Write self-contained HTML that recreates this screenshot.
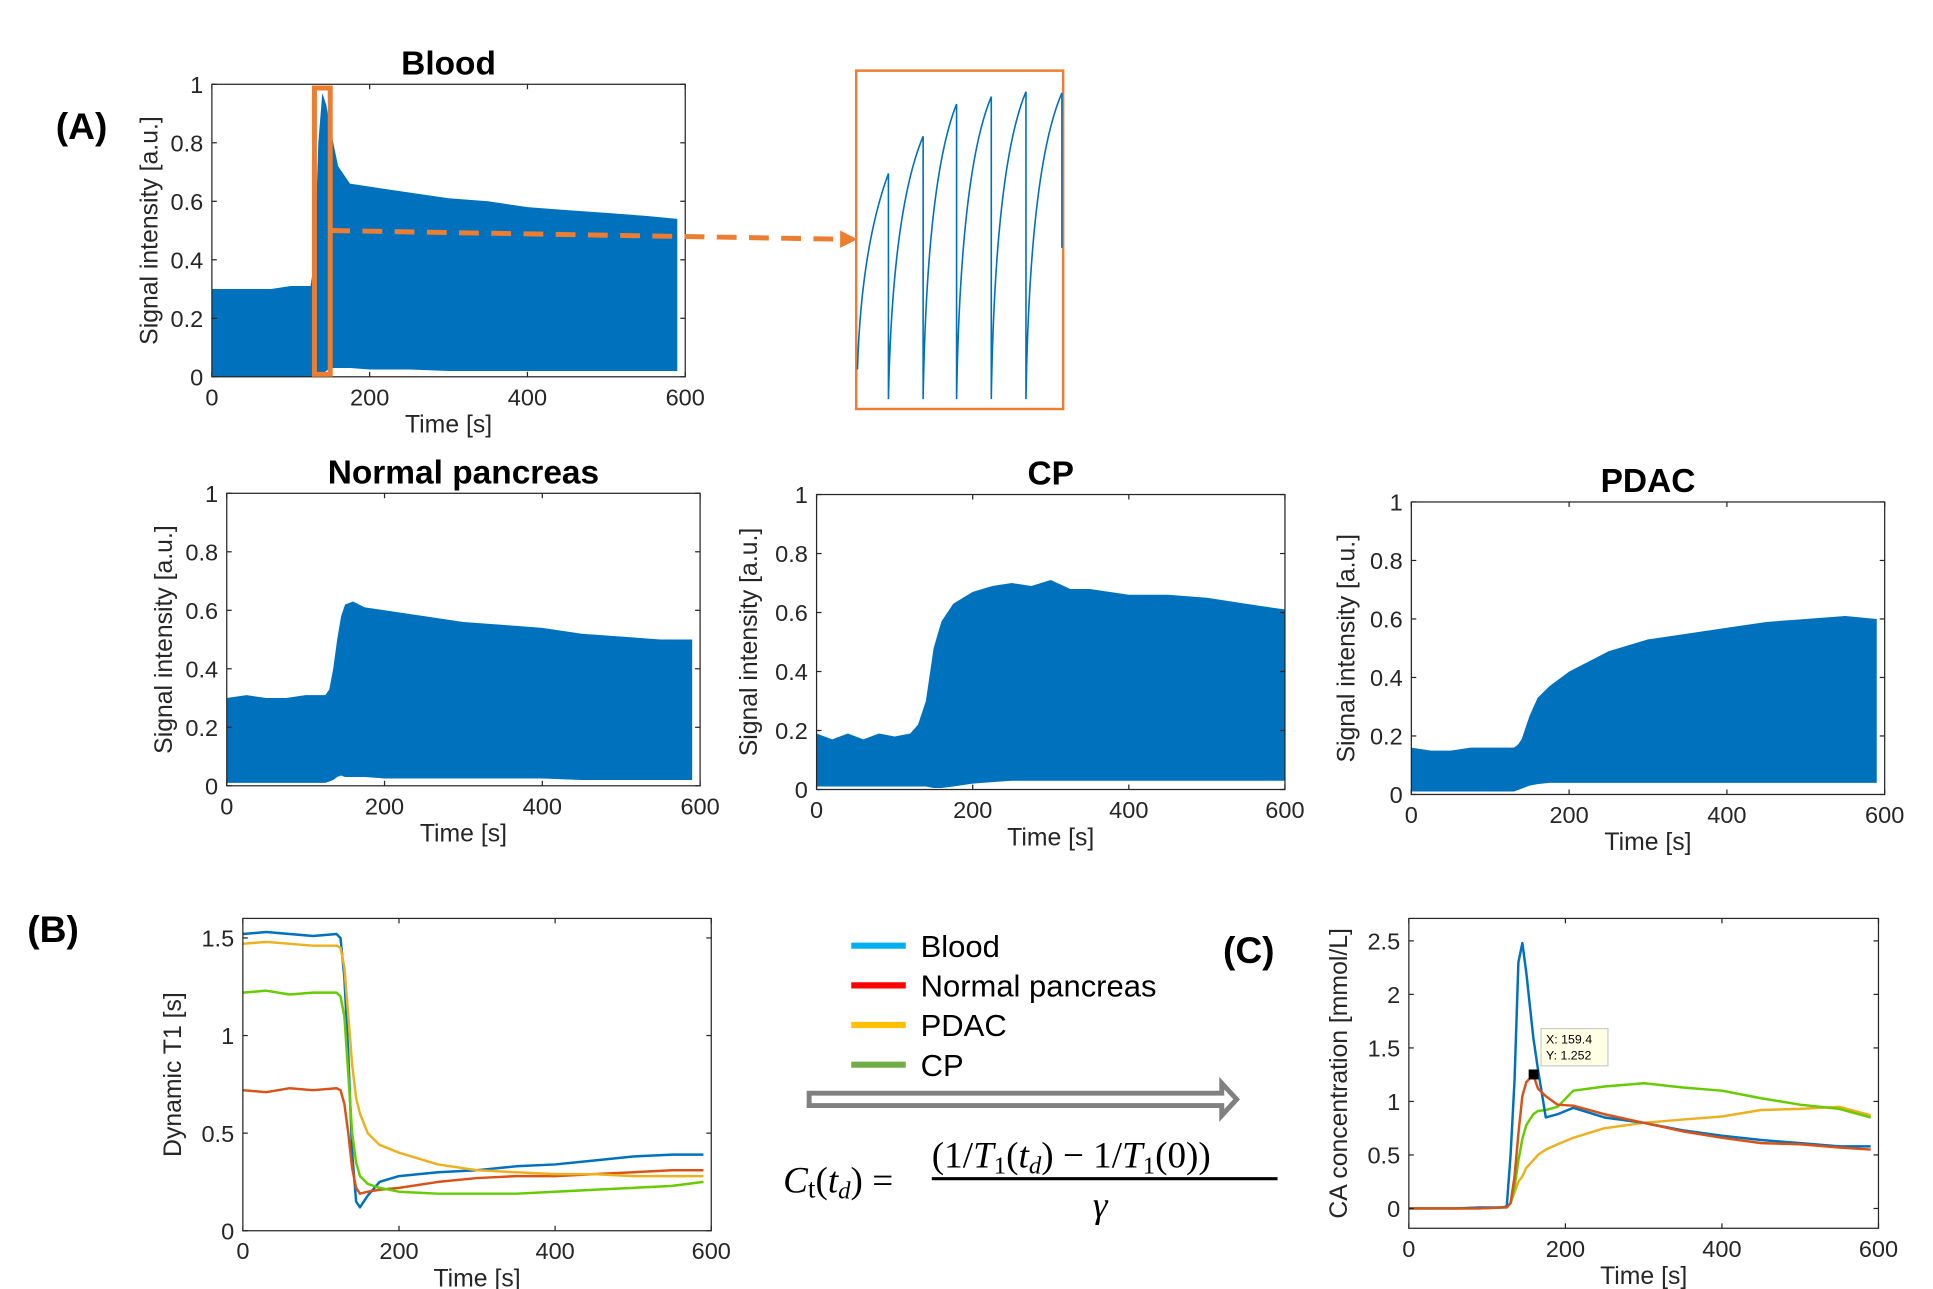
<!DOCTYPE html>
<html><head><meta charset="utf-8"><style>
html,body{margin:0;padding:0;background:#fff;}
svg{display:block;font-family:"Liberation Sans",sans-serif;}
</style></head><body>
<svg id="fig" width="1933" height="1289" viewBox="0 0 1560 1040" preserveAspectRatio="none" xmlns="http://www.w3.org/2000/svg">
<rect width="1560" height="1040" fill="#fff"/>
<text x="45" y="112" font-size="30" font-weight="bold">(A)</text>
<text x="22" y="760" font-size="30" font-weight="bold">(B)</text>
<text x="987" y="777" font-size="30" font-weight="bold">(C)</text>
<g id="charts"></g>
<rect x="691" y="57" width="167" height="273" fill="none" stroke="#ED7D31" stroke-width="2"/>
<g id="inset"></g>
<g font-size="25">
<line x1="687" y1="763" x2="731" y2="763" stroke="#00B0F0" stroke-width="5"/>
<text x="743" y="772">Blood</text>
<line x1="687" y1="795" x2="731" y2="795" stroke="#FF0000" stroke-width="5"/>
<text x="743" y="804">Normal pancreas</text>
<line x1="687" y1="827" x2="731" y2="827" stroke="#FFC000" stroke-width="5"/>
<text x="743" y="836">PDAC</text>
<line x1="687" y1="859" x2="731" y2="859" stroke="#70AD47" stroke-width="5"/>
<text x="743" y="868">CP</text>
</g>
<path d="M653,882 L986,882 L986,874 L998,887 L986,900 L986,892 L653,892 Z" fill="#fff" stroke="#808080" stroke-width="4"/>
<g font-family="'Liberation Serif',serif" font-style="italic" font-size="30">
<text x="632" y="962">C<tspan font-style="normal" font-size="22" dy="4">t</tspan><tspan dy="-4" font-style="normal">(</tspan>t<tspan font-size="20" dy="5">d</tspan><tspan dy="-5" font-style="normal">) =</tspan></text>
<text x="752" y="942"><tspan font-style="normal">(1/</tspan>T<tspan font-style="normal" font-size="20" dy="5">1</tspan><tspan font-style="normal" dy="-5">(</tspan>t<tspan font-size="20" dy="5">d</tspan><tspan font-style="normal" dy="-5">) − 1/</tspan>T<tspan font-style="normal" font-size="20" dy="5">1</tspan><tspan font-style="normal" dy="-5">(0))</tspan></text>
<line x1="752" y1="951" x2="1031" y2="951" stroke="#000" stroke-width="2.5"/>
<text x="882" y="982">γ</text>
</g>
</svg>
<script>
const sigT = [0,25,50,75,100,125,130,135,140,145,150,160,175,200,250,300,350,400,450,500,550,590];
const bloodUpper = [0.30,0.30,0.30,0.30,0.31,0.31,0.40,0.80,0.97,0.93,0.85,0.72,0.66,0.65,0.63,0.61,0.60,0.58,0.57,0.56,0.55,0.54];
const bloodLower = [0,0,0,0,0,0,0,0,0.01,0.02,0.03,0.03,0.03,0.025,0.025,0.02,0.02,0.02,0.02,0.02,0.02,0.02];
const normalUpper = [0.30,0.31,0.30,0.30,0.31,0.31,0.33,0.40,0.50,0.58,0.62,0.63,0.61,0.60,0.58,0.56,0.55,0.54,0.52,0.51,0.50,0.50];
const normalLower = [0.01,0.01,0.01,0.01,0.01,0.01,0.015,0.02,0.03,0.035,0.03,0.03,0.03,0.025,0.025,0.025,0.025,0.025,0.02,0.02,0.02,0.02];
const cpT = [0,20,40,60,80,100,120,130,140,150,160,175,200,225,250,275,300,325,350,375,400,450,500,550,600];
const cpUpper = [0.19,0.17,0.19,0.17,0.19,0.18,0.19,0.22,0.30,0.48,0.57,0.63,0.67,0.69,0.70,0.69,0.71,0.68,0.68,0.67,0.66,0.66,0.65,0.63,0.61];
const cpLower = [0.01,0.01,0.01,0.01,0.01,0.01,0.01,0.01,0.01,0.005,0.005,0.01,0.02,0.025,0.03,0.03,0.03,0.03,0.03,0.03,0.03,0.03,0.03,0.03,0.03];
const pdacUpper = [0.16,0.15,0.15,0.16,0.16,0.16,0.16,0.17,0.19,0.23,0.27,0.33,0.37,0.42,0.49,0.53,0.55,0.57,0.59,0.60,0.61,0.60];
const pdacLower = [0.01,0.01,0.01,0.01,0.01,0.01,0.01,0.015,0.02,0.025,0.03,0.035,0.04,0.04,0.04,0.04,0.04,0.04,0.04,0.04,0.04,0.04];
const t1T = [0,30,60,90,120,125,130,135,140,145,150,160,175,200,250,300,350,400,450,500,550,590];
const t1Blood = [1.52,1.53,1.52,1.51,1.52,1.50,1.30,0.90,0.40,0.15,0.12,0.18,0.25,0.28,0.30,0.31,0.33,0.34,0.36,0.38,0.39,0.39];
const t1Normal = [0.72,0.71,0.73,0.72,0.73,0.72,0.65,0.50,0.32,0.22,0.19,0.20,0.21,0.22,0.25,0.27,0.28,0.28,0.29,0.30,0.31,0.31];
const t1Pdac = [1.47,1.48,1.47,1.46,1.46,1.45,1.35,1.10,0.85,0.68,0.60,0.50,0.44,0.40,0.34,0.31,0.30,0.29,0.29,0.28,0.28,0.28];
const t1Cp = [1.22,1.23,1.21,1.22,1.22,1.20,1.10,0.80,0.50,0.35,0.28,0.24,0.22,0.20,0.19,0.19,0.19,0.20,0.21,0.22,0.23,0.25];
const caT = [0,30,60,90,120,125,130,135,140,145,150,159,165,175,190,210,250,300,350,400,450,500,550,590];
const caBlood = [0,0,0,0.01,0.01,0.02,0.5,1.2,2.3,2.48,2.2,1.6,1.3,0.85,0.88,0.94,0.85,0.80,0.73,0.68,0.64,0.61,0.58,0.58];
const caNormal = [0,0,0,0,0.01,0.01,0.05,0.3,0.7,1.05,1.18,1.25,1.12,1.05,0.97,0.96,0.88,0.80,0.72,0.66,0.61,0.60,0.57,0.55];
const caPdac = [0,0,0,0,0.01,0.01,0.05,0.15,0.25,0.30,0.38,0.45,0.50,0.55,0.60,0.66,0.75,0.80,0.83,0.86,0.92,0.93,0.95,0.87];
const caCp = [0,0,0,0,0.01,0.01,0.05,0.20,0.45,0.65,0.78,0.88,0.91,0.92,0.95,1.10,1.14,1.17,1.13,1.10,1.03,0.97,0.93,0.85];
const xTicks = [0,200,400,600];
const sigYTicks = [0,0.2,0.4,0.6,0.8,1];
const t1YTicks = [0,0.5,1,1.5];
const caYTicks = [0,0.5,1,1.5,2,2.5];

const NS = "http://www.w3.org/2000/svg";
const root = document.getElementById('charts');
function mk(tag, attrs, parent){ const e=document.createElementNS(NS,tag); for(const k in attrs) e.setAttribute(k,attrs[k]); (parent||root).appendChild(e); return e; }
function fmt(v){ return String(v); }
function axes(o){
  const g = mk('g',{});
  
  
  const sx = v => o.x0 + (v-o.xmin)/(o.xmax-o.xmin)*(o.x1-o.x0);
  const sy = v => o.y1 - (v-o.ymin)/(o.ymax-o.ymin)*(o.y1-o.y0);
  const plot = mk('g',{},g);
  const frame = mk('rect',{x:o.x0,y:o.y0,width:o.x1-o.x0,height:o.y1-o.y0,fill:'none',stroke:'#262626','stroke-width':1},g);
  
  
  xTicks.forEach(v=>{
    const x=sx(v);
    mk('line',{x1:x,y1:o.y1,x2:x,y2:o.y1-4,stroke:'#262626'},g);
    mk('line',{x1:x,y1:o.y0,x2:x,y2:o.y0+4,stroke:'#262626'},g);
    const t=mk('text',{x:x,y:o.y1+23,'font-size':19,'text-anchor':'middle',fill:'#262626'},g);
    t.textContent=fmt(v);
    
    
  });
  o.yTicks.forEach(v=>{
    const y=sy(v);
    mk('line',{x1:o.x0,y1:y,x2:o.x0+4,y2:y,stroke:'#262626'},g);
    mk('line',{x1:o.x1,y1:y,x2:o.x1-4,y2:y,stroke:'#262626'},g);
    const t=mk('text',{x:o.x0-7,y:y+7,'font-size':19,'text-anchor':'end',fill:'#262626'},g);
    t.textContent=fmt(v);
    
    
  });
  const xl=mk('text',{x:(o.x0+o.x1)/2,y:o.y1+45,'font-size':20,'text-anchor':'middle',fill:'#262626'},g);
  xl.textContent='Time [s]';
  
  
  const yx=o.x0-o.ylOff, yc=(o.y0+o.y1)/2;
  const yl=mk('text',{x:yx,y:yc,'font-size':20,'text-anchor':'middle',fill:'#262626',transform:`rotate(-90 ${yx} ${yc})`},g);
  yl.textContent=o.ylabel;
  
  
  if(o.title){
    const tt=mk('text',{x:(o.x0+o.x1)/2,y:o.y0-8,'font-size':27,'font-weight':'bold','text-anchor':'middle'},g);
    tt.textContent=o.title;
    
    
  }
  return {g,plot,sx,sy};
}
function band(ax, T, up, lo, name){
  let d='';
  T.forEach((t,i)=>{ d+=(i?'L':'M')+ax.sx(t).toFixed(1)+','+ax.sy(up[i]).toFixed(1); });
  for(let i=T.length-1;i>=0;i--) d+='L'+ax.sx(T[i]).toFixed(1)+','+ax.sy(lo[i]).toFixed(1);
  const p=mk('path',{d:d+'Z',fill:'#0072BD'},ax.plot);
  
  
}
function line(ax, T, Y, color, name){
  let d='';
  T.forEach((t,i)=>{ d+=(i?'L':'M')+ax.sx(t).toFixed(1)+','+ax.sy(Y[i]).toFixed(1); });
  const p=mk('path',{d:d,fill:'none',stroke:color,'stroke-width':2,'stroke-linejoin':'round'},ax.plot);
  
  
}
const SI='Signal intensity [a.u.]';
const aB=axes({name:'blood-signal-chart',title:'Blood',x0:171,x1:553,y0:68,y1:304,xmin:0,xmax:600,ymin:0,ymax:1,yTicks:sigYTicks,ylabel:SI,ylOff:44});
band(aB,sigT,bloodUpper,bloodLower,'blood-signal-area');
const hb=mk('rect',{x:aB.sx(130),y:71,width:aB.sx(150)-aB.sx(130),height:231,fill:'none',stroke:'#ED7D31','stroke-width':4},aB.g);


const da=mk('line',{x1:aB.sx(150),y1:186,x2:680,y2:193,stroke:'#ED7D31','stroke-width':4,'stroke-dasharray':'16,10'},aB.g);


const ah=mk('path',{d:'M678,186 L692,193 L678,200 Z',fill:'#ED7D31'},aB.g);


const aN=axes({name:'normal-pancreas-signal-chart',title:'Normal pancreas',x0:183,x1:565,y0:398,y1:634,xmin:0,xmax:600,ymin:0,ymax:1,yTicks:sigYTicks,ylabel:SI,ylOff:44});
band(aN,sigT,normalUpper,normalLower,'normal-pancreas-signal-area');
const aC=axes({name:'cp-signal-chart',title:'CP',x0:659,x1:1037,y0:399,y1:637,xmin:0,xmax:600,ymin:0,ymax:1,yTicks:sigYTicks,ylabel:SI,ylOff:48});
band(aC,cpT,cpUpper,cpLower,'cp-signal-area');
const aP=axes({name:'pdac-signal-chart',title:'PDAC',x0:1139,x1:1521,y0:405,y1:641,xmin:0,xmax:600,ymin:0,ymax:1,yTicks:sigYTicks,ylabel:SI,ylOff:46});
band(aP,sigT,pdacUpper,pdacLower,'pdac-signal-area');
const aT=axes({name:'dynamic-t1-chart',x0:196,x1:574,y0:741,y1:993,xmin:0,xmax:600,ymin:0,ymax:1.6,yTicks:t1YTicks,ylabel:'Dynamic T1 [s]',ylOff:50});
line(aT,t1T,t1Blood,'#0072BD','t1-blood-line');
line(aT,t1T,t1Normal,'#D95319','t1-normal-line');
line(aT,t1T,t1Pdac,'#EDB120','t1-pdac-line');
line(aT,t1T,t1Cp,'#66CC00','t1-cp-line');
const aA=axes({name:'ca-concentration-chart',x0:1137,x1:1516,y0:741,y1:991,xmin:0,xmax:600,ymin:-0.185,ymax:2.71,yTicks:caYTicks,ylabel:'CA concentration [mmol/L]',ylOff:50});
line(aA,caT,caPdac,'#EDB120','ca-pdac-line');
line(aA,caT,caCp,'#66CC00','ca-cp-line');
line(aA,caT,caBlood,'#0072BD','ca-blood-line');
line(aA,caT,caNormal,'#D95319','ca-normal-line');
const mx=aA.sx(159.4), my=aA.sy(1.252);
const mkr=mk('rect',{x:mx-4,y:my-4,width:8,height:8,fill:'#000'},aA.g);


const tip=mk('g',{},aA.g);


mk('rect',{x:mx+6,y:my-37,width:54,height:30,fill:'#FFFFE6',stroke:'#ccc'},tip);
const t1=mk('text',{x:mx+10,y:my-25,'font-size':10},tip); t1.textContent='X: 159.4';
const t2=mk('text',{x:mx+10,y:my-12,'font-size':10},tip); t2.textContent='Y: 1.252';
const ins=document.getElementById('inset');
const teeth=[[692,298,717,140],[717,322,745,110],[745,322,772,84],[772,322,800,78],[800,322,828,74],[828,322,857,75]];
let d='';
teeth.forEach(([x0,y0,x1,y1],i)=>{ d+=(i?'L':'M')+x0+','+y0+' Q'+(x0+3)+','+(y1+60)+' '+x1+','+y1+' '; });
d+='L857,200';
mk('path',{d:d,fill:'none',stroke:'#0072BD','stroke-width':1.3},ins);
</script>
</body></html>
